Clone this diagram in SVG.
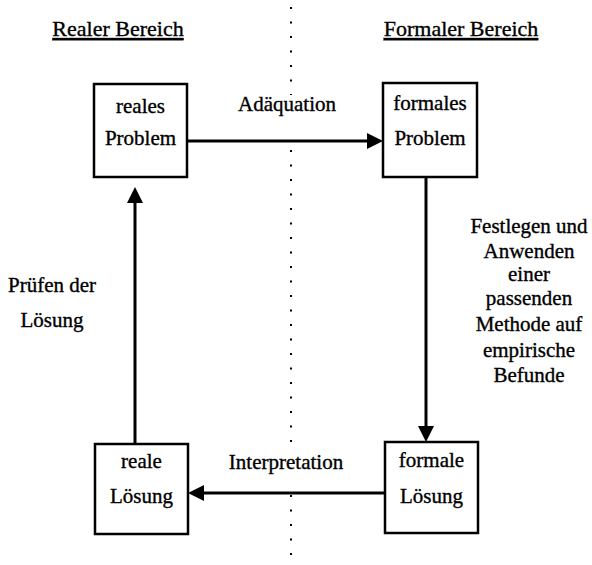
<svg xmlns="http://www.w3.org/2000/svg" width="592" height="565" viewBox="0 0 592 565">
<defs>
<style>
text{font-family:"Liberation Serif","Times New Roman",serif;font-size:21px;fill:#000;stroke:#000;stroke-width:0.35;text-anchor:middle}
.hd{font-size:22px;text-decoration:underline}
.box{fill:#fff;stroke:#000;stroke-width:2.5}
.arr{stroke:#000;stroke-width:3;fill:none;marker-end:url(#ah)}
.dot{stroke:#000;stroke-width:2;stroke-dasharray:2 12.5;fill:none}
</style>
<marker id="ah" viewBox="0 0 16 16" refX="6" refY="8" markerWidth="16" markerHeight="16" markerUnits="userSpaceOnUse" orient="auto">
<path d="M0,0 L16,8 L0,16 Z" fill="#000"/>
</marker>
</defs>
<rect width="592" height="565" fill="#fff"/>
<g id="divider">
<line class="dot" x1="291" y1="7" x2="291" y2="95"/>
<line class="dot" x1="291" y1="150" x2="291" y2="445"/>
<line class="dot" x1="291" y1="495" x2="291" y2="562"/>
</g>
<g id="headers">
<text class="hd" x="118" y="36">Realer Bereich</text>
<text class="hd" x="461" y="36">Formaler Bereich</text>
</g>
<g id="connectors">
<line class="arr" x1="187" y1="141" x2="373" y2="141"/>
<line class="arr" x1="426" y1="177" x2="426" y2="432"/>
<line class="arr" x1="385" y1="493" x2="198" y2="493"/>
<line class="arr" x1="135" y1="444" x2="135" y2="197"/>
<text x="287" y="111">Adäquation</text>
<text x="286" y="469">Interpretation</text>
<text x="52" y="292">Prüfen der</text>
<text x="52" y="327">Lösung</text>
<text x="529" y="233">Festlegen und</text>
<text x="529" y="258">Anwenden</text>
<text x="529" y="281">einer</text>
<text x="529" y="305">passenden</text>
<text x="529" y="331">Methode auf</text>
<text x="529" y="357">empirische</text>
<text x="529" y="382">Befunde</text>
</g>
<g id="reales-problem">
<rect class="box" x="94" y="84" width="93" height="93"/>
<text x="140.5" y="113">reales</text>
<text x="140.5" y="145">Problem</text>
</g>
<g id="formales-problem">
<rect class="box" x="383" y="83" width="94" height="94"/>
<text x="430" y="110">formales</text>
<text x="430" y="145">Problem</text>
</g>
<g id="reale-loesung">
<rect class="box" x="95" y="444" width="93" height="90"/>
<text x="141.5" y="468">reale</text>
<text x="141.5" y="503">Lösung</text>
</g>
<g id="formale-loesung">
<rect class="box" x="385" y="442" width="93" height="91"/>
<text x="431.5" y="467">formale</text>
<text x="431.5" y="503">Lösung</text>
</g>
</svg>
